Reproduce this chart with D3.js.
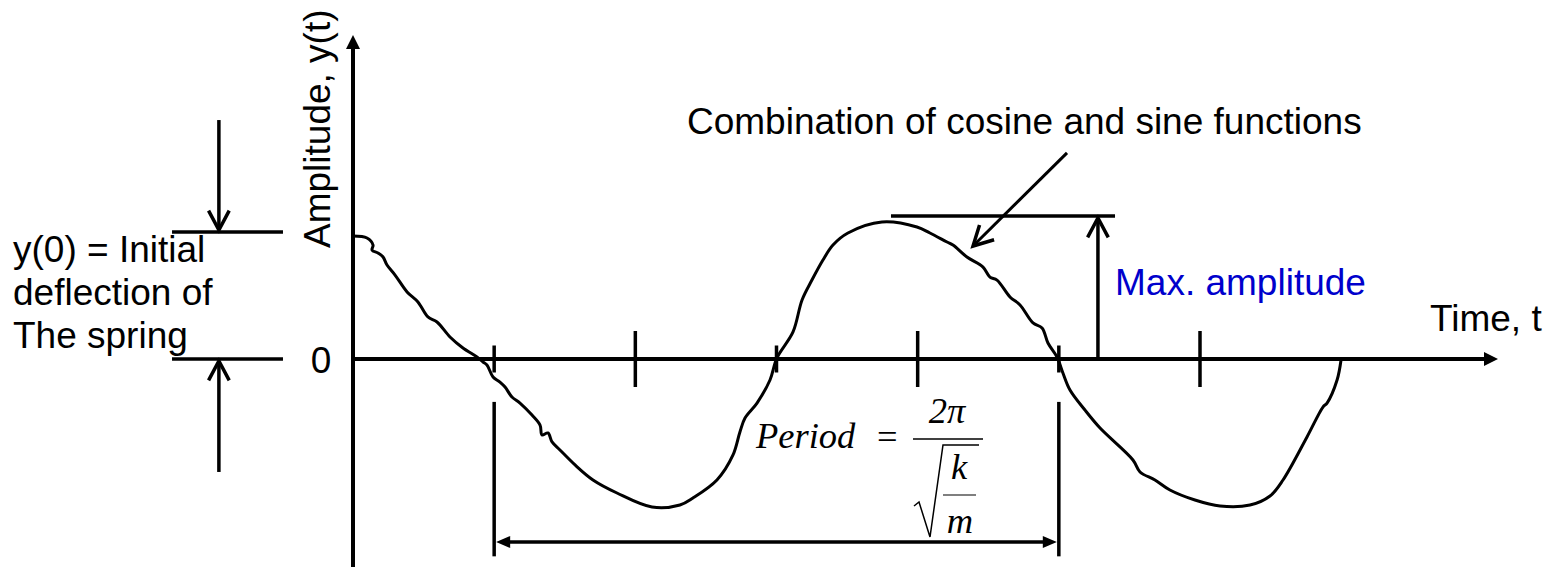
<!DOCTYPE html>
<html>
<head>
<meta charset="utf-8">
<script src="https://cdn.jsdelivr.net/npm/d3@7/dist/d3.min.js"></script>
<style>
  body { margin: 0; background: #fff; }
  svg text { font-family: "Liberation Sans", Arial, sans-serif; font-size: 37px; fill: #000; }
  svg text.math { font-family: "Liberation Serif", "Times New Roman", serif; font-style: italic; font-size: 36.5px; }
</style>
</head>
<body>
<svg id="chart" width="1556" height="567"></svg>
<script>
// time in tick units, amplitude relative to max amplitude (hand drawn curve)
var curveT = [0, 0.099, 0.142, 0.135, 0.177, 0.213, 0.241, 0.298, 0.383, 0.460, 0.531, 0.595, 0.687, 0.779, 0.878, 0.921, 0.949, 0.992,
  1.041, 1.077, 1.126, 1.183, 1.268, 1.325, 1.339, 1.381, 1.410, 1.466, 1.573, 1.700, 1.870, 2.118, 2.316, 2.408, 2.578, 2.692,
  2.741, 2.777, 2.862, 2.954, 3.003, 3.117, 3.181, 3.251, 3.329, 3.400, 3.506, 3.747, 3.995, 4.087, 4.208, 4.250, 4.349, 4.463,
  4.512, 4.562, 4.654, 4.725, 4.817, 4.881, 4.923, 4.987, 5.029, 5.079, 5.185, 5.292, 5.525, 5.575, 5.681, 5.787, 5.964, 6.142,
  6.354, 6.496, 6.588, 6.758, 6.871, 6.900, 6.971, 6.999];
var curveA = [0.860, 0.846, 0.797, 0.762, 0.741, 0.713, 0.657, 0.587, 0.469, 0.399, 0.294, 0.259, 0.154, 0.077, 0.014, -0.021, -0.042, -0.126,
  -0.161, -0.196, -0.266, -0.308, -0.392, -0.462, -0.531, -0.517, -0.580, -0.636, -0.741, -0.846, -0.937, -1.035, -1.021, -0.972, -0.846, -0.671,
  -0.510, -0.413, -0.308, -0.147, 0.007, 0.189, 0.413, 0.552, 0.692, 0.797, 0.881, 0.958, 0.923, 0.881, 0.818, 0.797, 0.713, 0.643,
  0.573, 0.552, 0.434, 0.378, 0.252, 0.217, 0.112, 0.014, -0.098, -0.217, -0.357, -0.483, -0.706, -0.790, -0.846, -0.916, -0.986, -1.028,
  -1.021, -0.958, -0.846, -0.545, -0.336, -0.308, -0.147, -0.007];

var tickTimes = [1, 2, 3, 4, 5, 6];
var initialDeflection = 0.888;
var maxAmplitude = 1;
var periodSpan = [1, 5];
var leftLabel = ['y(0) = Initial', 'deflection of', 'The spring'];

var svg = d3.select('#chart');
var x = d3.scaleLinear().domain([0, 6]).range([353, 1200]);
var y = d3.scaleLinear().domain([0, 1]).range([359, 216]);

function line(x1, y1, x2, y2, w) {
  return svg.append('line')
    .attr('x1', x1).attr('y1', y1).attr('x2', x2).attr('y2', y2)
    .attr('stroke', '#000').attr('stroke-width', w || 3.5);
}

// open arrow head, dir is travel direction in degrees
function chevron(tx, ty, dir) {
  var back = (dir + 180) * Math.PI / 180, h = 28 * Math.PI / 180, L = 22;
  var p1 = [tx + L * Math.cos(back - h), ty + L * Math.sin(back - h)];
  var p2 = [tx + L * Math.cos(back + h), ty + L * Math.sin(back + h)];
  svg.append('path')
    .attr('d', 'M' + p1 + 'L' + tx + ',' + ty + 'L' + p2)
    .attr('fill', 'none').attr('stroke', '#000').attr('stroke-width', 3.5);
}

// filled arrow head
function triangle(tx, ty, dir, len, half) {
  var a = dir * Math.PI / 180;
  var bx = tx - len * Math.cos(a), by = ty - len * Math.sin(a);
  var nx = -Math.sin(a) * half, ny = Math.cos(a) * half;
  svg.append('path')
    .attr('d', 'M' + tx + ',' + ty + 'L' + (bx + nx) + ',' + (by + ny) + 'L' + (bx - nx) + ',' + (by - ny) + 'Z')
    .attr('fill', '#000');
}

// axes
line(x(0), 567, x(0), 48, 4);
triangle(x(0), 35, -90, 14, 7);
line(x(0), y(0), 1485, y(0), 4);
triangle(1498, y(0), 0, 14, 7);

svg.selectAll('line.tick')
  .data(tickTimes)
  .enter().append('line')
  .attr('class', 'tick')
  .attr('x1', function (d) { return x(d); })
  .attr('x2', function (d) { return x(d); })
  .attr('y1', function (d) { return y(0) - (d % 2 === 0 ? 28 : 13.5); })
  .attr('y2', function (d) { return y(0) + (d % 2 === 0 ? 28 : 13.5); })
  .attr('stroke', '#000').attr('stroke-width', 3.5);

// the curve
svg.append('path')
  .datum(d3.zip(curveT, curveA))
  .attr('d', d3.line()
    .x(function (d) { return x(d[0]); })
    .y(function (d) { return y(d[1]); })
    .curve(d3.curveCatmullRom.alpha(0.5)))
  .attr('fill', 'none').attr('stroke', '#000').attr('stroke-width', 3)
  .attr('stroke-linejoin', 'round');

// initial deflection marker, left of the axis
line(x(-1.282), y(initialDeflection), x(-0.496), y(initialDeflection));
line(x(-1.282), y(0), x(-0.496), y(0));
line(x(-0.95), y(1.671), x(-0.95), y(initialDeflection) - 2);
chevron(x(-0.95), y(initialDeflection) - 2, 90);
line(x(-0.95), y(-0.79), x(-0.95), y(0) + 2);
chevron(x(-0.95), y(0) + 2, -90);

svg.selectAll('text.left')
  .data(leftLabel)
  .enter().append('text')
  .attr('class', 'left')
  .attr('x', 13)
  .attr('y', function (d, i) { return 262 + i * 43; })
  .text(function (d) { return d; });

svg.append('text').attr('x', 321).attr('y', 373).attr('text-anchor', 'middle').text('0');

svg.append('text')
  .attr('transform', 'translate(330,248)rotate(-90)')
  .text('Amplitude, y(t)');

svg.append('text').attr('x', 1430).attr('y', 331).text('Time, t');

// max amplitude
line(x(3.811), y(maxAmplitude), x(5.398), y(maxAmplitude));
line(x(5.277), y(0), x(5.277), y(maxAmplitude) + 2);
chevron(x(5.277), y(maxAmplitude) + 2, -90);
svg.append('text').attr('x', 1115).attr('y', 295).style('fill', '#0000cc').text('Max. amplitude');

// pointer to the curve
svg.append('text').attr('x', 687).attr('y', 134).text('Combination of cosine and sine functions');
var p0 = [x(5.058), y(1.441)], p1 = [x(4.392), y(0.790)];
line(p0[0], p0[1], p1[0], p1[1], 3);
chevron(p1[0], p1[1], Math.atan2(p1[1] - p0[1], p1[0] - p0[0]) * 180 / Math.PI);

// period dimension
line(x(periodSpan[0]), y(-0.3), x(periodSpan[0]), y(-1.38));
line(x(periodSpan[1]), y(-0.3), x(periodSpan[1]), y(-1.38));
line(x(periodSpan[0]) + 10, y(-1.28), x(periodSpan[1]) - 10, y(-1.28));
triangle(x(periodSpan[0]) + 2, y(-1.28), 180, 14, 6);
triangle(x(periodSpan[1]) - 2, y(-1.28), 0, 14, 6);

// formula
svg.append('text').attr('class', 'math').attr('x', 756).attr('y', 448).text('Period');
svg.append('text').attr('class', 'math').attr('x', 877).attr('y', 449).style('font-style', 'normal').text('=');
svg.append('text').attr('class', 'math').attr('x', 947).attr('y', 423).attr('text-anchor', 'middle').text('2π');
line(913, 439, 983, 439, 1.5);
svg.append('path')
  .attr('d', 'M914,506L919,502L930,537L943,445L979,445')
  .attr('fill', 'none').attr('stroke', '#000').attr('stroke-width', 1.5);
svg.append('text').attr('class', 'math').attr('x', 959).attr('y', 479).attr('text-anchor', 'middle').text('k');
line(943, 495, 976, 495, 1.2);
svg.append('text').attr('class', 'math').attr('x', 960).attr('y', 533).attr('text-anchor', 'middle').text('m');
</script>
</body>
</html>
